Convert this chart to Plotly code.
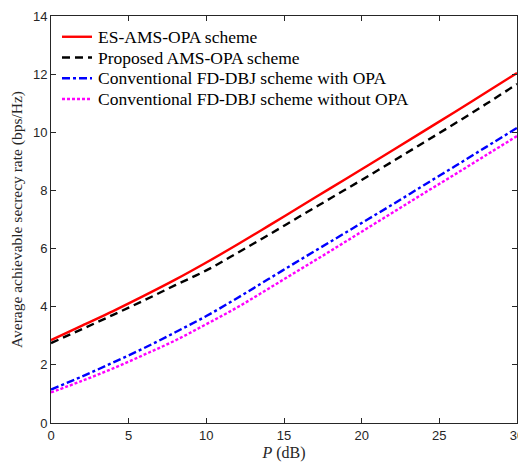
import plotly.graph_objects as go

P = [0, 2, 4, 6, 8, 10, 12, 14, 16, 18, 20, 22, 24, 26, 28, 30]
es_ams_opa = [2.85, 3.35, 3.85, 4.38, 4.93, 5.52, 6.14, 6.78, 7.43, 8.08, 8.73, 9.38, 10.04, 10.70, 11.37, 12.04]
proposed_ams_opa = [2.75, 3.23, 3.72, 4.22, 4.74, 5.25, 5.85, 6.47, 7.10, 7.73, 8.36, 9.00, 9.65, 10.30, 10.97, 11.66]
fd_dbj_opa = [1.15, 1.60, 2.08, 2.58, 3.12, 3.68, 4.30, 4.95, 5.60, 6.24, 6.88, 7.52, 8.18, 8.83, 9.49, 10.15]
fd_dbj_no_opa = [1.05, 1.45, 1.88, 2.35, 2.84, 3.40, 3.98, 4.62, 5.27, 5.92, 6.58, 7.24, 7.90, 8.55, 9.21, 9.87]

names = ["ES-AMS-OPA scheme", "Proposed AMS-OPA scheme",
         "Conventional FD-DBJ scheme with OPA", "Conventional FD-DBJ scheme without OPA"]
series = [es_ams_opa, proposed_ams_opa, fd_dbj_opa, fd_dbj_no_opa]
colors = ["#ff0000", "#000000", "#0000ff", "#ff00ff"]
dashes = ["solid", "8px,5px", "8px,3px,3px,3px", "3px,2px"]

fig = go.Figure()
for n, s, c, d in zip(names, series, colors, dashes):
    fig.add_trace(go.Scatter(x=P, y=s, mode="lines", name=n, showlegend=False,
                             line=dict(color=c, dash=d, width=2.4, shape="spline")))

# legend drawn inside the axes (MATLAB-style, no box)
leg_y = [0.949, 0.898, 0.847, 0.796]
for n, c, d, yy in zip(names, colors, dashes, leg_y):
    fig.add_shape(type="line", xref="paper", yref="paper", x0=0.0236, x1=0.088, y0=yy, y1=yy,
                  line=dict(color=c, dash=d, width=2.4))
    fig.add_annotation(xref="paper", yref="paper", x=0.0966, y=yy, text=n, showarrow=False,
                       xanchor="left", yanchor="middle",
                       font=dict(family="Liberation Serif, Times New Roman", size=17.5, color="#000000"))

axis_common = dict(showgrid=False, zeroline=False, showline=True, linecolor="#262626",
                   linewidth=1, mirror="ticks", ticks="inside", ticklen=5,
                   tickcolor="#262626", automargin=False, ticklabeloverflow="allow",
                   tickfont=dict(family="Liberation Sans, Arial", size=13, color="#262626"))

fig.update_layout(
    width=518, height=462,
    margin=dict(l=51, r=1, t=16, b=39),
    paper_bgcolor="white", plot_bgcolor="white",
    xaxis=dict(range=[0, 30], tickvals=[0, 5, 10, 15, 20, 25, 30],
               title=dict(text="<i>P</i> (dB)", standoff=12,
                          font=dict(family="Liberation Serif, Times New Roman", size=16, color="#262626")),
               **axis_common),
    yaxis=dict(range=[0, 14], tickvals=[0, 2, 4, 6, 8, 10, 12, 14],
               title=dict(text="Average achievable secrecy rate (bps/Hz)", standoff=6,
                          font=dict(family="Liberation Serif, Times New Roman", size=15.5, color="#262626")),
               **axis_common),
    showlegend=False,
)

fig.write_html("out.html", config={"displayModeBar": False},
               post_script="document.body.style.margin='0';document.body.style.padding='0';document.body.style.overflow='hidden';")
